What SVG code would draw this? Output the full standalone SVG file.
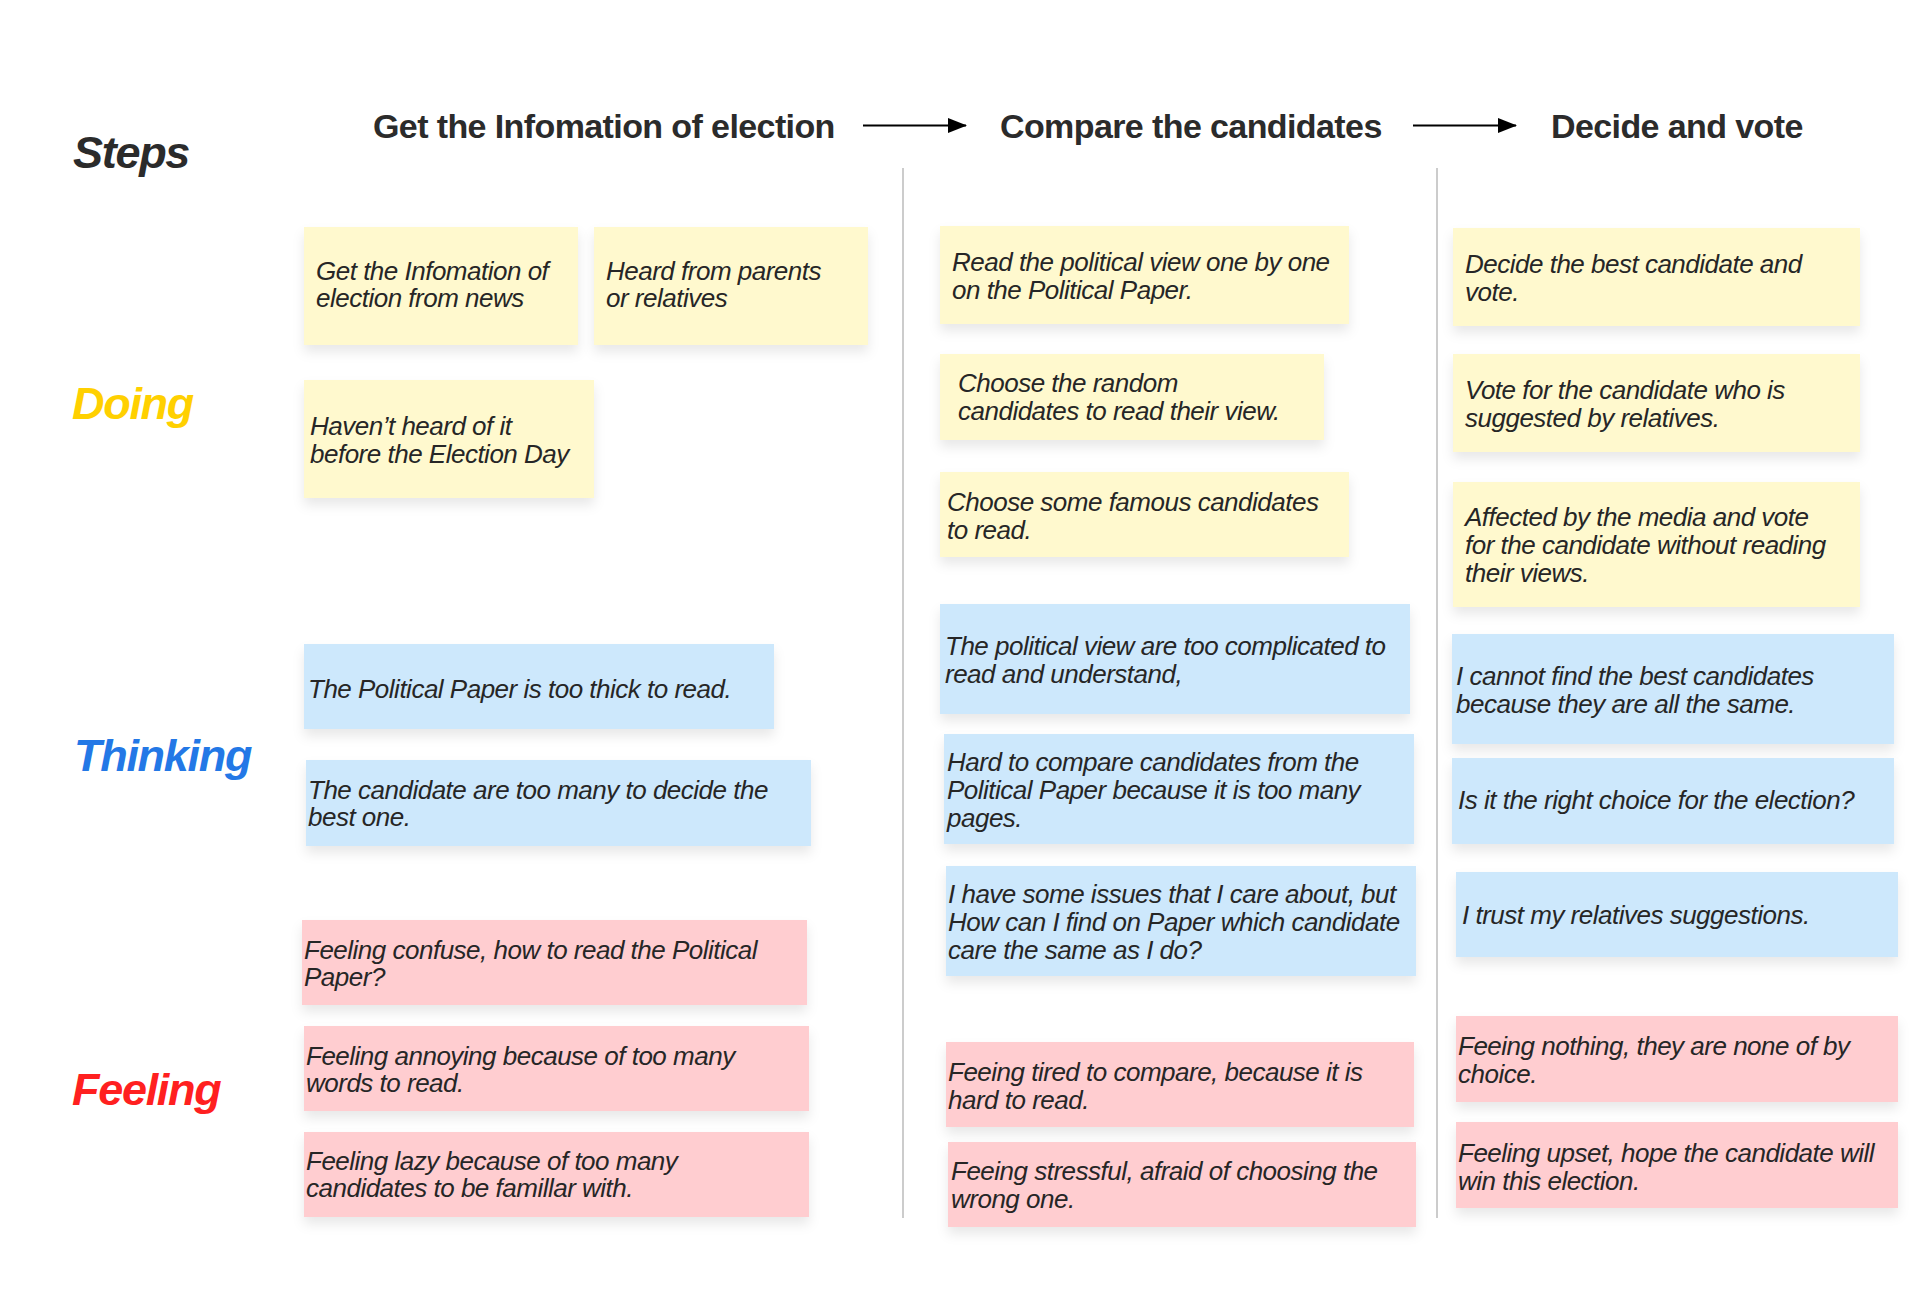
<svg xmlns="http://www.w3.org/2000/svg" width="1920" height="1300" viewBox="0 0 1920 1300">
<defs>
<filter id="sh" x="-10%" y="-20%" width="120%" height="160%">
<feDropShadow dx="0" dy="7" stdDeviation="6" flood-color="#000" flood-opacity="0.09"/>
</filter>
<marker id="ah" markerWidth="19" markerHeight="15" refX="18" refY="7.5" orient="auto" markerUnits="userSpaceOnUse" viewBox="0 0 19 15">
<path d="M0,0 L19,7.5 L0,15 Z" fill="#000"/>
</marker>
</defs>
<style>
.y{fill:#FFF9CE;filter:url(#sh)}
.b{fill:#CDE8FC;filter:url(#sh)}
.p{fill:#FFCDD0;filter:url(#sh)}
.t{font-family:"Liberation Sans",Arial,sans-serif;font-style:italic;font-size:26px;letter-spacing:-0.5px;fill:#262626}
.h{font-family:"Liberation Sans",Arial,sans-serif;font-weight:bold;font-size:34px;letter-spacing:-0.6px;fill:#2b2b2b}
.l{font-family:"Liberation Sans",Arial,sans-serif;font-weight:bold;font-style:italic;font-size:45px;letter-spacing:-1.3px}
.div{stroke:#cccccc;stroke-width:2}
.arr{stroke:#000;stroke-width:2;fill:none}
</style>
<rect width="1920" height="1300" fill="#fff"/>

<g id="labels">
<text class="l" x="73" y="168" fill="#2b2b2b">Steps</text>
<text class="l" x="72" y="419" fill="#FFD000">Doing</text>
<text class="l" x="74" y="771" fill="#2378E6">Thinking</text>
<text class="l" x="72" y="1105" fill="#FF2020">Feeling</text>
</g>

<g id="step1"><text class="h" x="373" y="138">Get the Infomation of election</text></g>
<g id="step2"><text class="h" x="1000" y="138">Compare the candidates</text></g>
<g id="step3"><text class="h" x="1551" y="138">Decide and vote</text></g>

<g id="connectors">
<line class="arr" x1="863" y1="125.5" x2="966" y2="125.5" marker-end="url(#ah)"/>
<line class="arr" x1="1413" y1="125.5" x2="1516" y2="125.5" marker-end="url(#ah)"/>
</g>

<g id="dividers">
<line class="div" x1="903" y1="168" x2="903" y2="1218"/>
<line class="div" x1="1437" y1="168" x2="1437" y2="1218"/>
</g>

<g id="c1"><rect class="y" x="304" y="227" width="274" height="118"/><text class="t" x="316" y="280">Get the Infomation of</text><text class="t" x="316" y="307">election from news</text></g>
<g id="c2"><rect class="y" x="594" y="227" width="274" height="118"/><text class="t" x="606" y="280">Heard from parents</text><text class="t" x="606" y="307">or relatives</text></g>
<g id="c3"><rect class="y" x="304" y="380" width="290" height="118"/><text class="t" x="310" y="435">Haven’t heard of it</text><text class="t" x="310" y="463">before the Election Day</text></g>
<g id="c4"><rect class="b" x="304" y="644" width="470" height="85"/><text class="t" x="308" y="698">The Political Paper is too thick to read.</text></g>
<g id="c5"><rect class="b" x="306" y="760" width="505" height="86"/><text class="t" x="308" y="799">The candidate are too many to decide the</text><text class="t" x="308" y="826">best one.</text></g>
<g id="c6"><rect class="p" x="302" y="920" width="505" height="85"/><text class="t" x="304" y="959">Feeling confuse, how to read the Political</text><text class="t" x="304" y="986">Paper?</text></g>
<g id="c7"><rect class="p" x="304" y="1026" width="505" height="85"/><text class="t" x="306" y="1065">Feeling annoying because of too many</text><text class="t" x="306" y="1092">words to read.</text></g>
<g id="c8"><rect class="p" x="304" y="1132" width="505" height="85"/><text class="t" x="306" y="1170">Feeling lazy because of too many</text><text class="t" x="306" y="1197">candidates to be famillar with.</text></g>

<g id="c9"><rect class="y" x="940" y="226" width="409" height="98"/><text class="t" x="952" y="271">Read the political view one by one</text><text class="t" x="952" y="299">on the Political Paper.</text></g>
<g id="c10"><rect class="y" x="940" y="354" width="384" height="86"/><text class="t" x="958" y="392">Choose the random</text><text class="t" x="958" y="420">candidates to read their view.</text></g>
<g id="c11"><rect class="y" x="940" y="472" width="409" height="85"/><text class="t" x="947" y="511">Choose some famous candidates</text><text class="t" x="947" y="539">to read.</text></g>
<g id="c12"><rect class="b" x="940" y="604" width="470" height="110"/><text class="t" x="945" y="655">The political view are too complicated to</text><text class="t" x="945" y="683">read and understand,</text></g>
<g id="c13"><rect class="b" x="944" y="734" width="470" height="110"/><text class="t" x="947" y="771">Hard to compare candidates from the</text><text class="t" x="947" y="799">Political Paper because it is too many</text><text class="t" x="947" y="827">pages.</text></g>
<g id="c14"><rect class="b" x="946" y="866" width="470" height="110"/><text class="t" x="948" y="903">I have some issues that I care about, but</text><text class="t" x="948" y="931">How can I find on Paper which candidate</text><text class="t" x="948" y="959">care the same as I do?</text></g>
<g id="c15"><rect class="p" x="946" y="1042" width="468" height="85"/><text class="t" x="948" y="1081">Feeing tired to compare, because it is</text><text class="t" x="948" y="1109">hard to read.</text></g>
<g id="c16"><rect class="p" x="948" y="1142" width="468" height="85"/><text class="t" x="951" y="1180">Feeing stressful, afraid of choosing the</text><text class="t" x="951" y="1208">wrong one.</text></g>

<g id="c17"><rect class="y" x="1453" y="228" width="407" height="98"/><text class="t" x="1465" y="273">Decide the best candidate and</text><text class="t" x="1465" y="301">vote.</text></g>
<g id="c18"><rect class="y" x="1453" y="354" width="407" height="98"/><text class="t" x="1465" y="399">Vote for the candidate who is</text><text class="t" x="1465" y="427">suggested by relatives.</text></g>
<g id="c19"><rect class="y" x="1453" y="482" width="407" height="125"/><text class="t" x="1465" y="526">Affected by the media and vote</text><text class="t" x="1465" y="554">for the candidate without reading</text><text class="t" x="1465" y="582">their views.</text></g>
<g id="c20"><rect class="b" x="1452" y="634" width="442" height="110"/><text class="t" x="1456" y="685">I cannot find the best candidates</text><text class="t" x="1456" y="713">because they are all the same.</text></g>
<g id="c21"><rect class="b" x="1452" y="758" width="442" height="86"/><text class="t" x="1458" y="809">Is it the right choice for the election?</text></g>
<g id="c22"><rect class="b" x="1456" y="872" width="442" height="85"/><text class="t" x="1462" y="924">I trust my relatives suggestions.</text></g>
<g id="c23"><rect class="p" x="1456" y="1016" width="442" height="86"/><text class="t" x="1458" y="1055">Feeing nothing, they are none of by</text><text class="t" x="1458" y="1083">choice.</text></g>
<g id="c24"><rect class="p" x="1456" y="1122" width="442" height="86"/><text class="t" x="1458" y="1162">Feeling upset, hope the candidate will</text><text class="t" x="1458" y="1190">win this election.</text></g>
</svg>
